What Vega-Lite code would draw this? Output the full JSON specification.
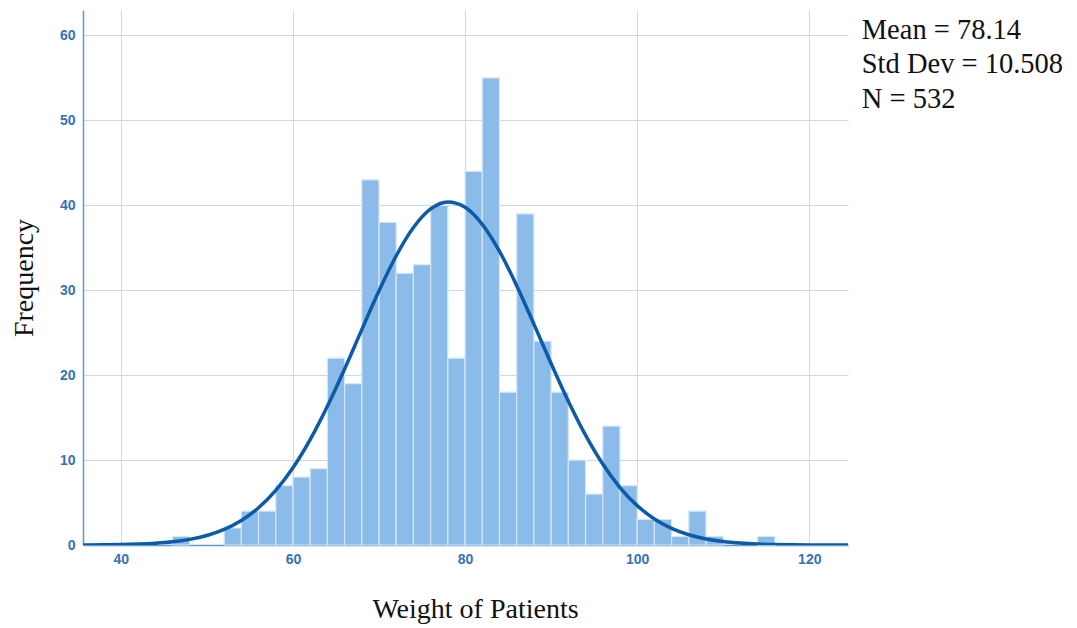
{
  "$schema": "https://vega.github.io/schema/vega-lite/v6.json",
  "autosize": "none",
  "width": 765,
  "height": 535,
  "padding": {"left": 83, "top": 10, "right": 229, "bottom": 83},
  "background": "white",
  "config": {"view": {"stroke": null}},
  "datasets": {
    "bins": [
      {"bin_start": 46, "bin_end": 48, "count": 1},
      {"bin_start": 52, "bin_end": 54, "count": 2},
      {"bin_start": 54, "bin_end": 56, "count": 4},
      {"bin_start": 56, "bin_end": 58, "count": 4},
      {"bin_start": 58, "bin_end": 60, "count": 7},
      {"bin_start": 60, "bin_end": 62, "count": 8},
      {"bin_start": 62, "bin_end": 64, "count": 9},
      {"bin_start": 64, "bin_end": 66, "count": 22},
      {"bin_start": 66, "bin_end": 68, "count": 19},
      {"bin_start": 68, "bin_end": 70, "count": 43},
      {"bin_start": 70, "bin_end": 72, "count": 38},
      {"bin_start": 72, "bin_end": 74, "count": 32},
      {"bin_start": 74, "bin_end": 76, "count": 33},
      {"bin_start": 76, "bin_end": 78, "count": 40},
      {"bin_start": 78, "bin_end": 80, "count": 22},
      {"bin_start": 80, "bin_end": 82, "count": 44},
      {"bin_start": 82, "bin_end": 84, "count": 55},
      {"bin_start": 84, "bin_end": 86, "count": 18},
      {"bin_start": 86, "bin_end": 88, "count": 39},
      {"bin_start": 88, "bin_end": 90, "count": 24},
      {"bin_start": 90, "bin_end": 92, "count": 18},
      {"bin_start": 92, "bin_end": 94, "count": 10},
      {"bin_start": 94, "bin_end": 96, "count": 6},
      {"bin_start": 96, "bin_end": 98, "count": 14},
      {"bin_start": 98, "bin_end": 100, "count": 7},
      {"bin_start": 100, "bin_end": 102, "count": 3},
      {"bin_start": 102, "bin_end": 104, "count": 3},
      {"bin_start": 104, "bin_end": 106, "count": 1},
      {"bin_start": 106, "bin_end": 108, "count": 4},
      {"bin_start": 108, "bin_end": 110, "count": 1},
      {"bin_start": 114, "bin_end": 116, "count": 1}
    ],
    "curve": [
      {"weight": 35.5, "density": 0.011},
      {"weight": 36, "density": 0.013},
      {"weight": 38, "density": 0.027},
      {"weight": 40, "density": 0.056},
      {"weight": 42, "density": 0.109},
      {"weight": 44, "density": 0.206},
      {"weight": 46, "density": 0.376},
      {"weight": 48, "density": 0.661},
      {"weight": 50, "density": 1.119},
      {"weight": 52, "density": 1.831},
      {"weight": 54, "density": 2.886},
      {"weight": 56, "density": 4.388},
      {"weight": 58, "density": 6.436},
      {"weight": 60, "density": 9.105},
      {"weight": 62, "density": 12.42},
      {"weight": 64, "density": 16.34},
      {"weight": 66, "density": 20.73},
      {"weight": 68, "density": 25.36},
      {"weight": 70, "density": 29.93},
      {"weight": 72, "density": 34.06},
      {"weight": 74, "density": 37.38},
      {"weight": 76, "density": 39.57},
      {"weight": 78, "density": 40.39},
      {"weight": 80, "density": 39.77},
      {"weight": 82, "density": 37.76},
      {"weight": 84, "density": 34.58},
      {"weight": 86, "density": 30.54},
      {"weight": 88, "density": 26.01},
      {"weight": 90, "density": 21.37},
      {"weight": 92, "density": 16.93},
      {"weight": 94, "density": 12.93},
      {"weight": 96, "density": 9.53},
      {"weight": 98, "density": 6.77},
      {"weight": 100, "density": 4.64},
      {"weight": 102, "density": 3.07},
      {"weight": 104, "density": 1.956},
      {"weight": 106, "density": 1.202},
      {"weight": 108, "density": 0.713},
      {"weight": 110, "density": 0.408},
      {"weight": 112, "density": 0.225},
      {"weight": 114, "density": 0.119},
      {"weight": 116, "density": 0.061},
      {"weight": 118, "density": 0.030},
      {"weight": 120, "density": 0.014},
      {"weight": 122, "density": 0.007},
      {"weight": 124, "density": 0.003},
      {"weight": 124.5, "density": 0.003}
    ],
    "stats": [{"text": ["Mean = 78.14", "Std Dev = 10.508", "N = 532"]}]
  },
  "layer": [
    {
      "data": {"name": "bins"},
      "mark": {"type": "rect", "color": "#8bbbe8", "stroke": "#d6e7f8", "strokeWidth": 1.2},
      "encoding": {
        "x": {
          "field": "bin_start", "type": "quantitative",
          "scale": {"domain": [35.6, 124.5], "nice": false, "zero": false},
          "axis": {
            "values": [40, 60, 80, 100, 120],
            "title": "Weight of Patients",
            "titleFont": "Liberation Serif", "titleFontSize": 28, "titleFontWeight": "normal",
            "titleColor": "#111111", "titlePadding": 29, "titleX": 392,
            "labelFont": "Liberation Sans", "labelFontSize": 14, "labelFontWeight": "bold", "labelColor": "#3672b6",
            "labelPadding": 7, "ticks": false,
            "domainColor": "#5b9bd5", "domainWidth": 1.5,
            "grid": true, "gridColor": "#c3daf0", "gridWidth": 1
          }
        },
        "x2": {"field": "bin_end"},
        "y": {
          "field": "count", "type": "quantitative",
          "scale": {"domain": [0, 63], "nice": false},
          "axis": {
            "values": [0, 10, 20, 30, 40, 50, 60],
            "title": "Frequency",
            "titleFont": "Liberation Serif", "titleFontSize": 28, "titleFontWeight": "normal",
            "titleColor": "#111111", "titlePadding": 21,
            "labelFont": "Liberation Sans", "labelFontSize": 14, "labelFontWeight": "bold", "labelColor": "#3672b6",
            "labelPadding": 8, "ticks": false,
            "domainColor": "#5b9bd5", "domainWidth": 1.5,
            "grid": true, "gridColor": "#c3daf0", "gridWidth": 1
          }
        },
        "y2": {"datum": 0}
      }
    },
    {
      "data": {"name": "curve"},
      "mark": {"type": "line", "color": "#0d5aa6", "strokeWidth": 3.5, "interpolate": "monotone", "clip": true},
      "encoding": {
        "x": {"field": "weight", "type": "quantitative"},
        "y": {"field": "density", "type": "quantitative"}
      }
    },
    {
      "data": {"name": "stats"},
      "mark": {"type": "text", "align": "left", "baseline": "alphabetic", "font": "Liberation Serif", "fontSize": 28.5, "lineHeight": 34.5, "color": "#111111", "clip": false},
      "encoding": {
        "text": {"field": "text"},
        "x": {"datum": 126.1},
        "y": {"datum": 59.6}
      }
    }
  ]
}
